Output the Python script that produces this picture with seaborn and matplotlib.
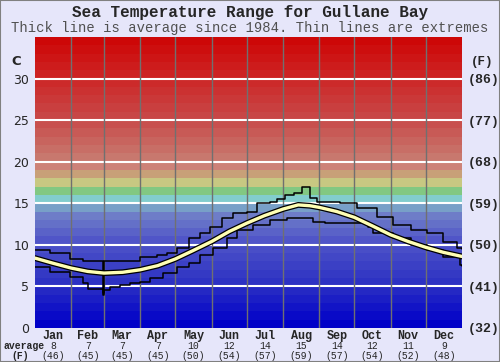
import numpy as np
import matplotlib
matplotlib.use("Agg")
import matplotlib.pyplot as plt
import matplotlib.transforms as mtrans
import seaborn as sns

# month info
months = ["Jan", "Feb", "Mar", "Apr", "May", "Jun", "Jul", "Aug", "Sep", "Oct", "Nov", "Dec"]
month_days = [31, 28, 31, 30, 31, 30, 31, 31, 30, 31, 30, 31]
avg_c = [8, 7, 7, 7, 10, 12, 14, 15, 14, 12, 11, 9]
avg_f = [46, 45, 45, 45, 50, 54, 57, 59, 57, 54, 52, 48]

# average curve (day of year, deg C)
avg_day = [0, 15, 31, 45, 59, 75, 90, 105, 120, 135, 151, 166, 181, 196, 212,
           225, 235, 243, 258, 273, 288, 304, 319, 334, 349, 365]
avg_temp = [8.4, 7.8, 7.2, 6.8, 6.6, 6.7, 7.0, 7.5, 8.3, 9.3, 10.4, 11.6, 12.6, 13.5, 14.3,
            14.8, 14.7, 14.5, 14.0, 13.3, 12.3, 11.2, 10.4, 9.7, 9.1, 8.6]

# warmest extremes
hi_day = [0, 13, 30, 41, 58, 59, 73, 90, 104, 113, 121, 132, 141, 150, 160, 169, 181, 190,
          201, 207, 214, 221, 228, 235, 241, 255, 261, 275, 292, 306, 321, 335, 349, 361, 365]
hi_temp = [9.4, 9.0, 8.3, 8.0, 4.2, 8.0, 8.1, 8.5, 8.8, 9.0, 9.6, 10.8, 11.4, 12.1, 13.2, 13.8, 13.9, 15.0,
           15.1, 15.5, 16.0, 16.2, 16.9, 15.6, 15.2, 15.2, 15.0, 14.4, 13.3, 12.4, 11.8, 11.4, 10.3, 9.6, 9.5]

# coldest extremes
lo_day = [0, 13, 30, 41, 45, 58, 59, 64, 73, 81, 90, 98, 109, 121, 132, 141, 152, 164, 173,
          186, 201, 215, 238, 248, 285, 289, 306, 321, 335, 349, 363, 365]
lo_temp = [7.3, 6.7, 6.1, 5.4, 4.7, 4.0, 4.6, 4.9, 5.2, 5.4, 5.5, 6.0, 6.6, 7.3, 7.8, 8.8, 9.6, 10.8, 11.8,
           12.4, 13.0, 13.2, 12.7, 12.6, 12.1, 11.4, 10.8, 10.0, 9.4, 8.5, 7.6, 7.5]

yticks_c = [0, 5, 10, 15, 20, 25, 30]
yticks_f = ["(32)", "(41)", "(50)", "(59)", "(68)", "(77)", "(86)"]

# background band colours, one per degree
band_keys = {0: (0, 0, 200), 5: (45, 50, 195), 10: (80, 85, 200), 13: (110, 125, 200),
             14: (120, 160, 200), 15: (130, 205, 205), 16: (130, 200, 130), 17: (200, 200, 130),
             18: (200, 160, 120), 19: (205, 130, 120), 20: (200, 120, 110), 25: (200, 70, 70),
             30: (205, 35, 35), 35: (205, 0, 0)}

def band_color(t):
    ks = sorted(band_keys)
    for a, b in zip(ks[:-1], ks[1:]):
        if a <= t < b:
            if b - a == 1:
                return np.array(band_keys[a]) / 255
            f = (t - a) / (b - a)
            return (np.array(band_keys[a]) * (1 - f) + np.array(band_keys[b]) * f) / 255
    return np.array(band_keys[35]) / 255

sns.set_style("white")
plt.rcParams["font.family"] = ["DejaVu Sans"]
mono = "Liberation Mono"

fig = plt.figure(figsize=(5, 3.62), dpi=100, facecolor="#e6e6fa")
ax = fig.add_axes([0.07, 0.094, 0.854, 0.804])

for t in range(35):
    ax.axhspan(t, t + 1, color=band_color(t), lw=0, zorder=0)

for y in yticks_c[1:]:
    ax.axhline(y, color="white", lw=1.5, zorder=1)

edges = np.cumsum([0] + month_days)
for e in edges[1:-1]:
    ax.axvline(e, color="#707070", lw=1, zorder=1)

sns.lineplot(x=hi_day, y=hi_temp, ax=ax, color="black", lw=1.1, drawstyle="steps-post", zorder=3)
sns.lineplot(x=lo_day, y=lo_temp, ax=ax, color="black", lw=1.1, drawstyle="steps-post", zorder=3)
sns.lineplot(x=avg_day, y=avg_temp, ax=ax, color="black", lw=4.2, zorder=4)
sns.lineplot(x=avg_day, y=avg_temp, ax=ax, color="#ffffb4", lw=2.4, zorder=5)

ax.set_xlim(0, 365)
ax.set_ylim(0, 35)
ax.set_yticks(yticks_c)
ax.set_yticklabels([str(v) for v in yticks_c], fontsize=9)
ax.set_xticks([])
ax.tick_params(axis="both", length=0)
ax.tick_params(axis="y", pad=4)
for s in ax.spines.values():
    s.set_visible(False)

ax2 = ax.twinx()
ax2.set_ylim(0, 35)
ax2.set_yticks(yticks_c)
ax2.set_yticklabels(yticks_f, fontfamily=mono, fontweight="bold", fontsize=9.5)
ax2.tick_params(axis="y", length=0, pad=4)
for s in ax2.spines.values():
    s.set_visible(False)

# month labels under the plot
mids = (edges[:-1] + edges[1:]) / 2
tr = mtrans.blended_transform_factory(ax.transData, ax.transAxes)
for m, name, c, f in zip(mids, months, avg_c, avg_f):
    ax.text(m, -0.026, name, transform=tr, ha="center", va="center", fontfamily=mono,
            fontweight="bold", fontsize=8.5)
    ax.text(m, -0.062, str(c), transform=tr, ha="center", va="center", fontfamily=mono, fontsize=7)
    ax.text(m, -0.096, "(%d)" % f, transform=tr, ha="center", va="center", fontfamily=mono, fontsize=7)

fig.text(0.006, 0.044, "average", ha="left", va="center", fontfamily=mono, fontweight="bold", fontsize=7)
fig.text(0.04, 0.016, "(F)", ha="center", va="center", fontfamily=mono, fontweight="bold", fontsize=7)
fig.text(0.032, 0.83, "C", ha="center", va="center", fontsize=9.5, fontweight="bold")
fig.text(0.965, 0.83, "(F)", ha="center", va="center", fontfamily=mono, fontweight="bold", fontsize=9)

fig.text(0.5, 0.965, "Sea Temperature Range for Gullane Bay", ha="center", va="center",
         fontfamily=mono, fontweight="bold", fontsize=11.5)
fig.text(0.5, 0.922, "Thick line is average since 1984. Thin lines are extremes", ha="center",
         va="center", fontfamily=mono, fontsize=10, color="#505050")

fig.patches.append(plt.Rectangle((0, 0), 1, 1, transform=fig.transFigure, fill=False,
                                 edgecolor="#808080", lw=1.5))

fig.savefig("out.png", dpi=100, facecolor=fig.get_facecolor())
